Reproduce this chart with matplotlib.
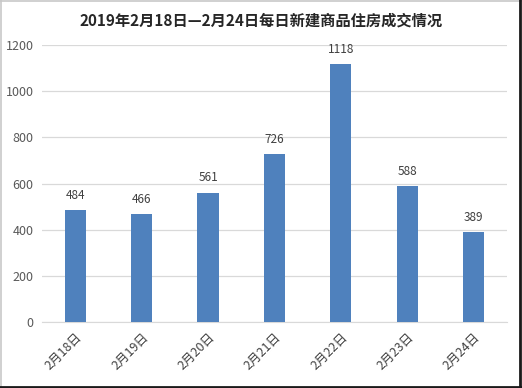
import matplotlib
matplotlib.use("Agg")
import matplotlib.pyplot as plt
from matplotlib.lines import Line2D

plt.rcParams['font.family'] = ['Noto Sans CJK SC', 'DejaVu Sans']

title = "2019年2月18日—2月24日每日新建商品住房成交情况"
categories = ["2月18日", "2月19日", "2月20日", "2月21日", "2月22日", "2月23日", "2月24日"]
values = [484, 466, 561, 726, 1118, 588, 389]
yticks = [0, 200, 400, 600, 800, 1000, 1200]

fig = plt.figure(figsize=(5.22, 3.88), dpi=100)
ax = fig.add_axes([0.0805, 0.170, 0.8905, 0.714])

x = list(range(len(categories)))
ax.bar(x, values, width=0.32, color="#4F81BD", zorder=3)
for xi, v in zip(x, values):
    ax.annotate(str(v), (xi, v), xytext=(0, 6), textcoords="offset points",
                ha="center", va="bottom", fontsize=8.5, color="#404040")

ax.set_xlim(-0.5, len(categories) - 0.5)
ax.set_ylim(0, 1200)
ax.set_yticks(yticks)
ax.set_yticklabels([str(t) for t in yticks], fontsize=9, color="#595959")
ax.set_xticks(x)
ax.set_xticklabels(categories, rotation=45, ha="right", rotation_mode="anchor",
                   fontsize=9, color="#404040")
ax.grid(axis="y", color="#D9D9D9", linewidth=0.9, zorder=0)
for s in ["top", "right", "left"]:
    ax.spines[s].set_visible(False)
ax.spines["bottom"].set_color("#D9D9D9")
ax.tick_params(axis="x", length=0, pad=6)
ax.tick_params(axis="y", length=0, pad=6)

fig.text(0.5, 0.948, title, ha="center", va="center", fontsize=11,
         fontweight="bold", color="#262626")

W, H = 522.0, 388.0
# light top / left border
fig.add_artist(Line2D([0.5 / W, 0.5 / W], [0, 1], transform=fig.transFigure,
                      color="#C8C8C8", linewidth=1.2))
fig.add_artist(Line2D([0, 1], [1 - 0.5 / H, 1 - 0.5 / H], transform=fig.transFigure,
                      color="#C8C8C8", linewidth=1.2))
# dark right / bottom border
fig.add_artist(Line2D([1 - 2 / W, 1 - 2 / W], [0, 1], transform=fig.transFigure,
                      color="#1A1A1A", linewidth=2))
fig.add_artist(Line2D([0, 1], [1.5 / H, 1.5 / H], transform=fig.transFigure,
                      color="#1A1A1A", linewidth=2))

fig.savefig("out.png", dpi=100)
